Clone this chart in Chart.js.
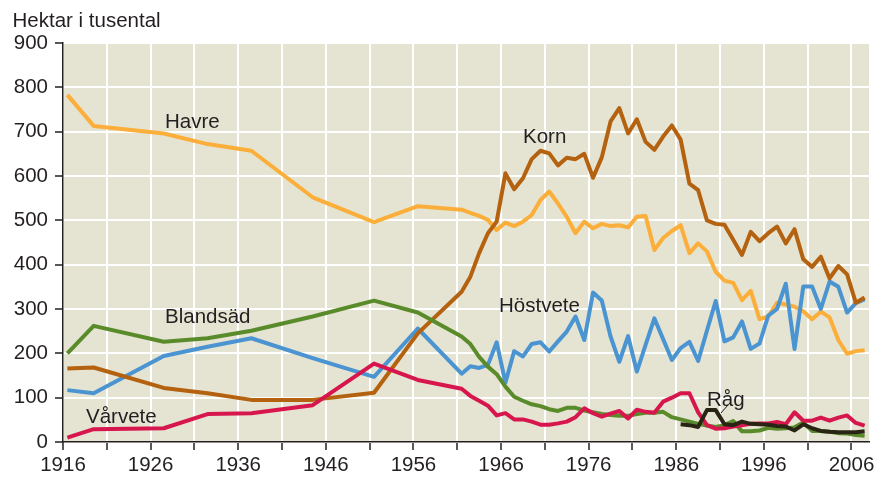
<!DOCTYPE html>
<html><head><meta charset="utf-8">
<script src="https://cdn.jsdelivr.net/npm/chart.js@4.4.1/dist/chart.umd.min.js"></script>
<style>html,body{margin:0;padding:0;background:#fff}#wrap{width:889px;height:479px}</style>
</head><body><div id="wrap"><canvas id="c" width="889" height="479"></canvas></div>
<script>
// Years of observation (sparse before 1961, annual afterwards)
const years = [1916,1919,1927,1932,1937,1944,1951,1956,
  1961,1962,1963,1964,1965,1966,1967,1968,1969,1970,
  1971,1972,1973,1974,1975,1976,1977,1978,1979,1980,
  1981,1982,1983,1984,1985,1986,1987,1988,1989,1990,
  1991,1992,1993,1994,1995,1996,1997,1998,1999,2000,
  2001,2002,2003,2004,2005,2006,2007];

// Hektar i tusental
const havre = [783,713,696,672,657,552,496,532,
  524,517,510,501,478,495,487,497,512,546,
  565,538,508,471,497,482,492,487,489,484,
  508,510,433,460,476,489,426,448,430,384,
  364,359,320,341,277,283,314,310,305,295,
  277,294,281,230,199,205,207];

const korn = [166,168,122,110,95,95,111,245,
  339,373,426,471,497,606,570,595,638,657,
  651,624,641,638,650,596,642,723,753,696,
  728,677,659,689,714,682,583,568,500,492,
  490,456,422,474,453,471,486,448,480,412,
  395,418,369,397,378,314,326];

const hostvete = [117,110,194,215,234,189,147,256,
  154,171,167,174,225,134,205,193,221,225,
  204,227,249,283,230,337,319,238,181,239,
  159,219,279,232,185,212,226,183,251,318,
  227,236,272,210,222,285,300,357,210,351,
  351,300,362,350,292,313,322];

const blandsad = [200,262,226,234,251,283,319,292,
  238,221,192,170,153,125,102,93,85,81,
  74,70,77,77,71,67,63,61,59,59,
  63,66,66,68,56,51,46,41,37,34,
  38,47,24,24,26,32,30,31,33,44,
  25,25,23,20,19,16,14];

const varvete = [10,29,31,63,65,83,177,140,
  120,104,93,82,60,65,51,51,46,39,
  39,42,46,56,76,65,57,64,70,53,
  73,68,66,91,100,110,110,67,38,30,
  31,35,38,41,42,42,45,40,67,48,
  48,55,48,55,60,43,37];

const ragYears = [1986,1987,1988,1989,1990,1991,1992,1993,1994,1995,1996,
  1997,1998,1999,2000,2001,2002,2003,2004,2005,2006,2007];
const rag = [40,38,34,72,72,40,38,46,41,40,39,
  36,35,26,40,31,25,23,22,22,22,24];

const xGridYears = [1916,1921,1926,1931,1936,1941,1946,1951,1956,1961,1966,1971,1976,1981,1986,1991,1996,2001,2006];
const xLabelYears = [1916,1926,1936,1946,1956,1966,1976,1986,1996,2006];

const MID_YEAR = 0.5; // values are plotted at mid-year
const pts = (ys, vs) => ys.map((y, i) => ({x: y + MID_YEAR, y: vs[i]}));

const TEXT = '#231f20';
const FONT_FAMILY = '"Liberation Sans", Arial, Helvetica, sans-serif';
const FONT_SIZE = 20.5;

const bgPlugin = {
  id: 'bg',
  beforeDraw(chart) {
    const {ctx, chartArea: a} = chart;
    ctx.save();
    ctx.fillStyle = '#e5e3d1';
    ctx.fillRect(a.left, a.top, a.right - a.left, a.bottom - a.top);
    ctx.restore();
  }
};

const labelPlugin = {
  id: 'labels',
  afterDraw(chart) {
    const ctx = chart.ctx;
    ctx.save();
    ctx.fillStyle = TEXT;
    ctx.textBaseline = 'alphabetic';
    ctx.textAlign = 'left';
    ctx.font = FONT_SIZE + 'px ' + FONT_FAMILY;
    ctx.fillText('Hektar i tusental', 12.5, 26.5);
    ctx.fillText('Havre', 165, 127.5);
    ctx.fillText('Korn', 523, 142.5);
    ctx.fillText('Höstvete', 499, 311.5);
    ctx.fillText('Blandsäd', 165, 323);
    ctx.fillText('Vårvete', 86, 422.5);
    ctx.fillText('Råg', 707, 405.5);
    ctx.strokeStyle = TEXT;
    ctx.lineWidth = 1;
    ctx.beginPath();
    ctx.moveTo(728, 405);
    ctx.lineTo(721, 413);
    ctx.stroke();
    ctx.restore();
  }
};

const lineDs = (label, data, color) => ({
  label, data, borderColor: color, backgroundColor: color,
  borderWidth: 4, pointRadius: 0, tension: 0, fill: false,
  borderJoinStyle: 'round', borderCapStyle: 'butt'
});

new Chart(document.getElementById('c'), {
  type: 'line',
  data: {
    datasets: [
      lineDs('Råg', pts(ragYears, rag), '#2a2414'),
      lineDs('Vårvete', pts(years, varvete), '#d8164e'),
      lineDs('Blandsäd', pts(years, blandsad), '#5a8b2b'),
      lineDs('Korn', pts(years, korn), '#b4620f'),
      lineDs('Höstvete', pts(years, hostvete), '#4b94d2'),
      lineDs('Havre', pts(years, havre), '#fbaf3a')
    ]
  },
  options: {
    responsive: false,
    devicePixelRatio: 1,
    animation: false,
    layout: {padding: {top: 43, right: 20, bottom: 0, left: 0}},
    plugins: {legend: {display: false}, tooltip: {enabled: false}, title: {display: false}},
    scales: {
      x: {
        type: 'linear', min: 1916, max: 2008,
        afterBuildTicks: (s) => { s.ticks = xGridYears.map(v => ({value: v})); },
        afterFit: (s) => { s.height = 37; },
        ticks: {
          autoSkip: false, maxRotation: 0, minRotation: 0, padding: 3,
          color: TEXT, font: {family: FONT_FAMILY, size: FONT_SIZE},
          callback: (v) => xLabelYears.includes(v) ? String(v) : ''
        },
        grid: {color: '#ffffff', lineWidth: 2, tickColor: TEXT, tickLength: 8, tickWidth: 1.5},
        border: {color: TEXT, width: 1.5}
      },
      y: {
        min: 0, max: 900,
        afterFit: (s) => { s.width = 63; },
        ticks: {stepSize: 100, padding: 7, color: TEXT, font: {family: FONT_FAMILY, size: FONT_SIZE}},
        grid: {color: '#ffffff', lineWidth: 2, tickColor: TEXT, tickLength: 8, tickWidth: 1.5},
        border: {color: TEXT, width: 1.5}
      }
    }
  },
  plugins: [bgPlugin, labelPlugin]
});
</script></body></html>
